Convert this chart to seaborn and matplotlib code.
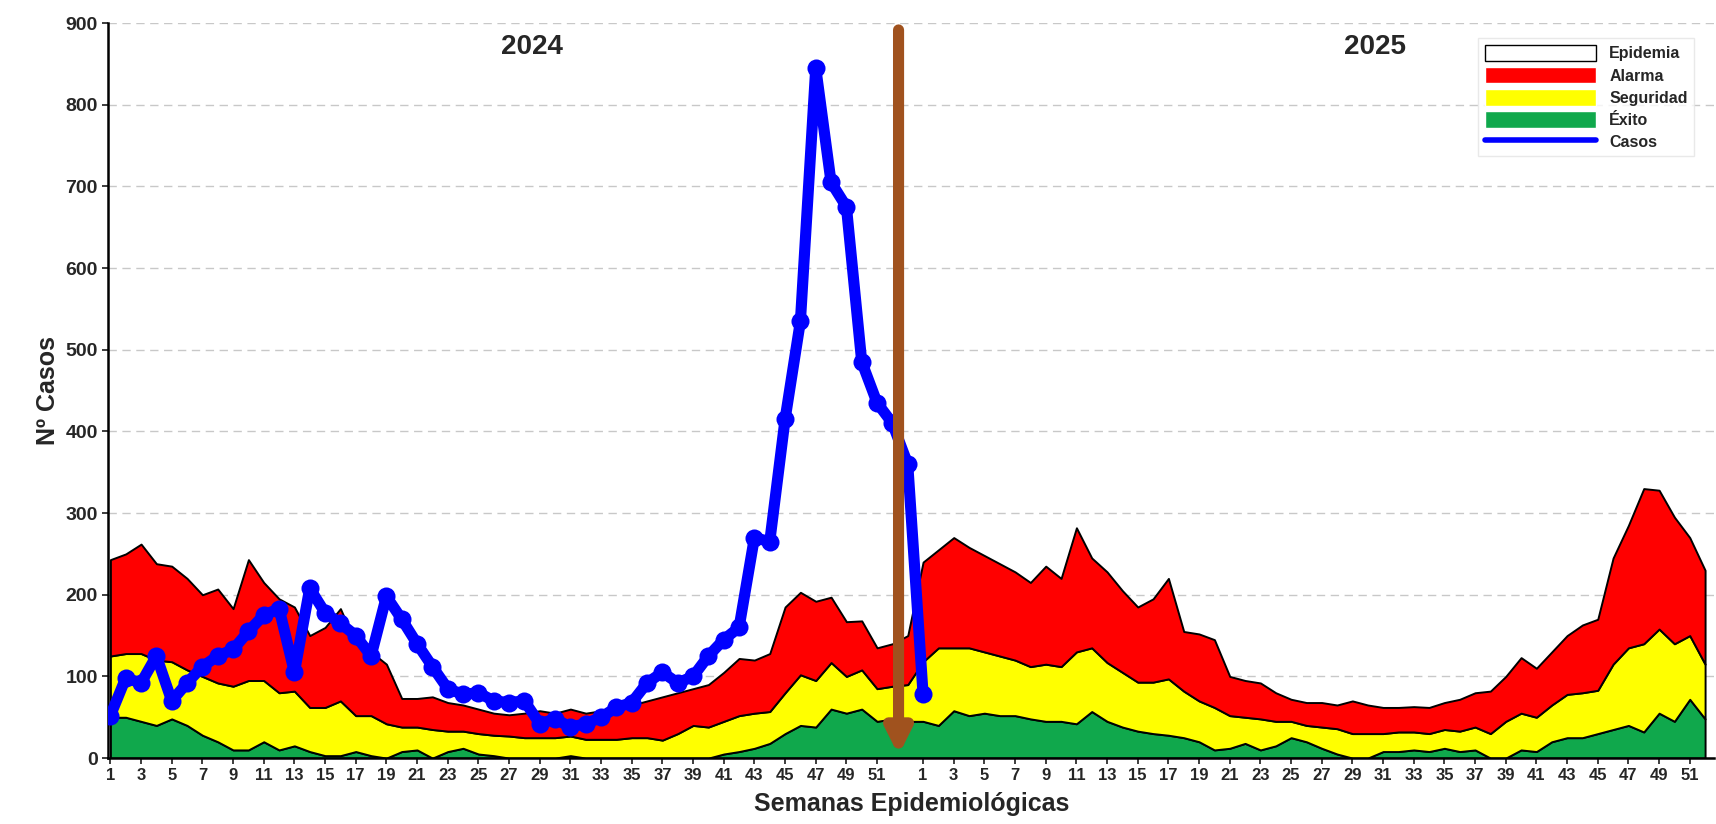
import numpy as np
import pandas as pd
import seaborn as sns
from matplotlib import pyplot as plt
from matplotlib.patches import Patch
from matplotlib.lines import Line2D

# upper limits of each zone, 2024 (53 weeks) then 2025 (52 weeks)
epidemia_2024 = [243, 250, 262, 238, 235, 220, 200, 207, 183, 243, 215, 195, 185, 150, 160, 183, 140, 130, 115, 73,
                 73, 75, 68, 65, 60, 55, 53, 55, 58, 55, 60, 55, 58, 62, 65, 70, 75, 80, 85, 90,
                 105, 122, 120, 128, 185, 203, 192, 197, 167, 168, 135, 140, 150]
epidemia_2025 = [240, 255, 270, 258, 248, 238, 228, 215, 235, 220, 282, 245, 228, 205, 185, 195, 220, 155, 152, 145,
                 100, 95, 92, 80, 72, 68, 68, 65, 70, 65, 62, 62, 63, 62, 68, 72, 80, 82, 100, 123,
                 110, 130, 150, 163, 170, 245, 285, 330, 328, 295, 270, 230]
alarma_2024 = [125, 128, 128, 120, 118, 108, 100, 92, 88, 95, 95, 80, 82, 62, 62, 70, 52, 52, 42, 38,
               38, 35, 33, 33, 30, 28, 27, 25, 25, 25, 27, 23, 23, 23, 25, 25, 22, 30, 40, 38,
               45, 52, 55, 57, 80, 102, 95, 117, 100, 108, 85, 88, 90]
alarma_2025 = [118, 135, 135, 135, 130, 125, 120, 112, 115, 112, 130, 135, 117, 105, 93, 93, 97, 82, 70, 62,
               52, 50, 48, 45, 45, 40, 38, 36, 30, 30, 30, 32, 32, 30, 35, 33, 38, 30, 45, 55,
               50, 65, 78, 80, 83, 115, 135, 140, 158, 140, 150, 115]
exito_2024 = [50, 50, 45, 40, 48, 40, 28, 20, 10, 10, 20, 10, 15, 8, 3, 3, 8, 3, 0, 8,
              10, 0, 8, 12, 5, 3, 0, 0, 0, 0, 3, 0, 0, 0, 0, 0, 0, 0, 0, 0,
              5, 8, 12, 18, 30, 40, 38, 60, 55, 60, 45, 48, 45]
exito_2025 = [45, 40, 58, 52, 55, 52, 52, 48, 45, 45, 42, 57, 45, 38, 33, 30, 28, 25, 20, 10,
              12, 18, 10, 15, 25, 20, 12, 5, 0, 0, 8, 8, 10, 8, 12, 8, 10, 0, 0, 10,
              8, 20, 25, 25, 30, 35, 40, 32, 55, 45, 72, 48]
casos = [52, 98, 92, 125, 70, 92, 112, 125, 133, 155, 175, 183, 105, 208, 178, 165, 150, 125, 198, 170,
         140, 112, 85, 78, 80, 70, 68, 70, 42, 48, 38, 42, 50, 62, 68, 92, 105, 92, 100, 125,
         145, 160, 270, 265, 415, 535, 845, 705, 675, 485, 435, 410, 360, 78]

sns.set_theme(style="white")
plt.rcParams['font.family'] = ['Liberation Sans', 'DejaVu Sans']

epidemia = np.array(epidemia_2024 + epidemia_2025)
alarma = np.array(alarma_2024 + alarma_2025)
exito = np.array(exito_2024 + exito_2025)
x = np.arange(len(epidemia))
df = pd.DataFrame({'x': np.arange(len(casos)), 'casos': casos})

fig, ax = plt.subplots(figsize=(17.16, 8.24), dpi=100)
fig.subplots_adjust(left=0.063, right=0.999, top=0.972, bottom=0.08)

ax.fill_between(x, 0, exito, color='#10a84c', edgecolor='black', linewidth=1.4, zorder=2)
ax.fill_between(x, exito, alarma, color='#ffff00', edgecolor='black', linewidth=1.4, zorder=2)
ax.fill_between(x, alarma, epidemia, color='#ff0000', edgecolor='black', linewidth=1.4, zorder=2)

sns.lineplot(data=df, x='x', y='casos', ax=ax, color='#0000ff', linewidth=8,
             marker='o', markersize=13, markeredgewidth=0, zorder=4)

ax.annotate('', xy=(51.4, 0), xytext=(51.4, 895),
            arrowprops=dict(arrowstyle='-|>,head_width=0.6,head_length=1.2',
                            color='#a0521e', lw=8), zorder=5)

ax.text(27.5, 862, '2024', ha='center', fontsize=20, fontweight='bold')
ax.text(82.5, 862, '2025', ha='center', fontsize=20, fontweight='bold')

ticks = list(range(0, 51, 2)) + list(range(53, len(epidemia), 2))
labels = [str(i + 1) for i in range(0, 51, 2)] + [str(i - 52) for i in range(53, len(epidemia), 2)]
ax.set_xticks(ticks)
ax.set_xticklabels(labels, fontsize=12, fontweight='bold')
ax.set_xlim(-0.15, len(epidemia) - 0.4)
ax.set_ylim(0, 900)
ax.set_yticks(range(0, 901, 100))
ax.set_yticklabels([str(v) for v in range(0, 901, 100)], fontsize=14, fontweight='bold')
ax.tick_params(axis='both', length=4, direction='out', bottom=True, left=True)
ax.yaxis.grid(True, linestyle=(0, (6, 4)), color='#c8c8c8', linewidth=1)
ax.set_axisbelow(True)
for s in ['top', 'right']:
    ax.spines[s].set_visible(False)
for s in ['left', 'bottom']:
    ax.spines[s].set_color('black')
    ax.spines[s].set_linewidth(1.8)

ax.set_xlabel('Semanas Epidemiológicas', fontsize=18, fontweight='bold', labelpad=6)
ax.set_ylabel('Nº Casos', fontsize=18, fontweight='bold')

handles = [Patch(facecolor='white', edgecolor='black', label='Epidemia'),
           Patch(facecolor='#ff0000', label='Alarma'),
           Patch(facecolor='#ffff00', label='Seguridad'),
           Patch(facecolor='#10a84c', label='Éxito'),
           Line2D([0], [0], color='#0000ff', lw=4, label='Casos')]
leg = ax.legend(handles=handles, loc='upper left', bbox_to_anchor=(0.848, 0.99),
                prop={'size': 11.5, 'weight': 'bold'}, frameon=True, fancybox=False,
                edgecolor='#e4e4e4', handlelength=7, handleheight=1.2, labelspacing=0.35)

fig.savefig('out.png', dpi=100)
